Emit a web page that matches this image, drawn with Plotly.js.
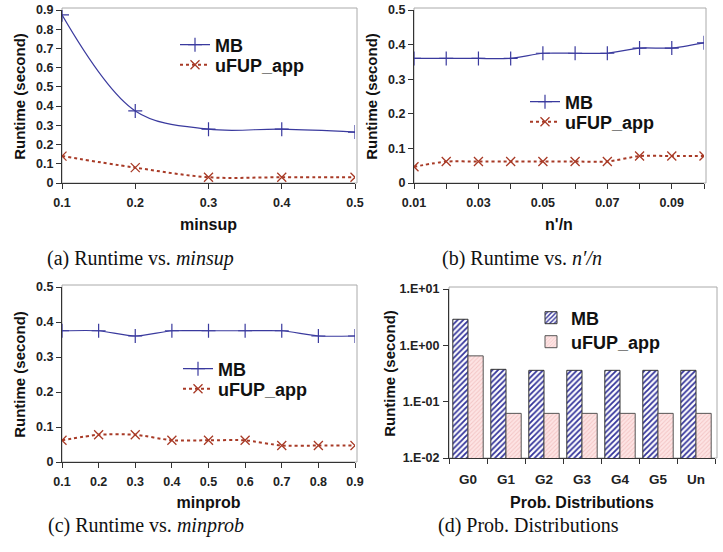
<!DOCTYPE html>
<html><head><meta charset="utf-8">
<script src="https://cdn.plot.ly/plotly-3.0.1.min.js"></script>
<style>html,body{margin:0;padding:0;background:#fff}#c{width:723px;height:552px}</style>
</head><body><div id="c"></div>
<script>
// Data
const minsup = [0.1, 0.2, 0.3, 0.4, 0.5];
const mbMinsup = [0.875, 0.375, 0.28, 0.28, 0.265];
const ufMinsup = [0.14, 0.08, 0.03, 0.03, 0.03];

const nRatio = [0.01, 0.02, 0.03, 0.04, 0.05, 0.06, 0.07, 0.08, 0.09, 0.10];
const mbRatio = [0.36, 0.36, 0.36, 0.36, 0.375, 0.375, 0.375, 0.39, 0.39, 0.405];
const ufRatio = [0.047, 0.062, 0.062, 0.062, 0.062, 0.062, 0.062, 0.078, 0.078, 0.078];

const minprob = [0.1, 0.2, 0.3, 0.4, 0.5, 0.6, 0.7, 0.8, 0.9];
const mbMinprob = [0.375, 0.375, 0.36, 0.375, 0.375, 0.375, 0.375, 0.36, 0.36];
const ufMinprob = [0.062, 0.078, 0.078, 0.062, 0.062, 0.062, 0.047, 0.047, 0.047];

const dists = ['G0', 'G1', 'G2', 'G3', 'G4', 'G5', 'Un'];
const mbDist = [2.9, 0.375, 0.36, 0.36, 0.36, 0.36, 0.36];
const ufDist = [0.65, 0.062, 0.062, 0.062, 0.062, 0.062, 0.062];

const seriesNames = ['MB', 'uFUP_app'];

const BLUE = '#3a3a9e', RED = '#a83a26';
const F = 'Liberation Sans, Arial, sans-serif';
const SERIF = 'Liberation Serif, Times New Roman, serif';

function mbTrace(x, y, xa, ya, leg, sm) {
  return {x, y, xaxis: xa, yaxis: ya, legend: leg, name: seriesNames[0], type: 'scatter', mode: 'lines+markers',
    line: {color: BLUE, width: 1.2, shape: 'spline', smoothing: sm},
    marker: {symbol: 'cross-thin', size: 10, color: BLUE, line: {color: BLUE, width: 1.2}}};
}
function ufTrace(x, y, xa, ya, leg, sm) {
  return {x, y, xaxis: xa, yaxis: ya, legend: leg, name: seriesNames[1], type: 'scatter', mode: 'lines+markers',
    line: {color: RED, width: 2, dash: 'dot', shape: 'spline', smoothing: sm},
    marker: {symbol: 'x-thin', size: 9, color: RED, line: {color: RED, width: 1.3}}};
}

const traces = [
  mbTrace(minsup, mbMinsup, 'x', 'y', 'legend', 1),
  ufTrace(minsup, ufMinsup, 'x', 'y', 'legend2', 1),
  mbTrace(nRatio, mbRatio, 'x2', 'y2', 'legend3', 0.6),
  ufTrace(nRatio, ufRatio, 'x2', 'y2', 'legend4', 0.6),
  mbTrace(minprob, mbMinprob, 'x3', 'y3', 'legend5', 0.6),
  ufTrace(minprob, ufMinprob, 'x3', 'y3', 'legend6', 0.6),
  {x: dists, y: mbDist, xaxis: 'x4', yaxis: 'y4', legend: 'legend7', name: seriesNames[0], type: 'bar',
    marker: {color: '#ffffff', line: {color: '#333333', width: 1},
      pattern: {shape: '/', fgcolor: '#33339a', bgcolor: '#ffffff', size: 4, solidity: 0.45, fillmode: 'replace'}}},
  {x: dists, y: ufDist, xaxis: 'x4', yaxis: 'y4', legend: 'legend8', name: seriesNames[1], type: 'bar',
    marker: {color: '#fde2e2', line: {color: '#555555', width: 1},
      pattern: {shape: '/', fgcolor: '#f3c4c4', bgcolor: '#fde4e4', size: 3, solidity: 0.3, fillmode: 'replace'}}}
];

const tickF = {family: F, size: 12.5, color: '#222', weight: 'bold'};
const titleFx = {family: F, size: 16, color: '#111', weight: 'bold'};
const titleFy = {family: F, size: 15, color: '#111', weight: 'bold'};
function xax(domain, range, anchor, extra) {
  return Object.assign({domain, range, anchor, showgrid: false, zeroline: false, showline: true, linecolor: '#333', linewidth: 1,
    ticks: 'outside', ticklen: 5, tickcolor: '#333', tickfont: tickF, ticklabelstandoff: 3, fixedrange: true}, extra);
}
function yax(domain, range, anchor, extra) {
  return Object.assign({domain, range, anchor, showgrid: false, zeroline: false, showline: true, linecolor: '#333', linewidth: 1,
    ticks: 'outside', ticklen: 5, tickcolor: '#333', tickfont: tickF, fixedrange: true}, extra);
}
const legF = {family: F, size: 18, color: '#111', weight: 'bold'};
// x: left of text minus 40px; y: centre of the item
function leg(textX, cy) {
  return {x: (textX - 40) / 723, y: 1 - cy / 552, xanchor: 'left', yanchor: 'middle', bgcolor: 'rgba(0,0,0,0)', font: legF, itemwidth: 30};
}

const dA = {x: [62/723, 355/723], y: [1-183/552, 1-10/552]};
const dB = {x: [414/723, 704/723], y: [1-183/552, 1-10/552]};
const dC = {x: [62/723, 355/723], y: [1-462/552, 1-287/552]};
const dD = {x: [449/723, 715/723], y: [1-458/552, 1-289/552]};

function frame(d) {
  return {type: 'rect', xref: 'paper', yref: 'paper', x0: d.x[0], x1: d.x[1] + 2/723, y0: d.y[0], y1: d.y[1] + 2/552,
    line: {color: '#aaaaaa', width: 1}, layer: 'below'};
}
function cap(text, x, y) {
  return {text, x, y, xref: 'paper', yref: 'paper', xanchor: 'center', yanchor: 'middle', showarrow: false,
    font: {family: SERIF, size: 20, color: '#111'}};
}

const layout = {
  width: 723, height: 552, margin: {l: 0, r: 0, t: 0, b: 0},
  paper_bgcolor: '#fff', plot_bgcolor: 'rgba(0,0,0,0)', showlegend: true,
  barmode: 'group', bargap: 0.2, bargroupgap: 0,
  xaxis: xax(dA.x, [0.1, 0.5], 'y', {tickvals: minsup, tickformat: '.1f', title: {text: 'minsup', font: titleFx, standoff: 9}}),
  yaxis: yax(dA.y, [0, 0.9], 'x', {dtick: 0.1, tickformat: '.1~f', title: {text: 'Runtime (second)', font: titleFy, standoff: 6}}),
  xaxis2: xax(dB.x, [0.01, 0.10], 'y2', {tick0: 0.01, dtick: 0.02, tickformat: '.2f', minor: {dtick: 0.01, tick0: 0.01, ticks: 'outside', ticklen: 5, tickcolor: '#333'}, title: {text: "n'/n", font: titleFx, standoff: 9}}),
  yaxis2: yax(dB.y, [0, 0.5], 'x2', {dtick: 0.1, tickformat: '.1~f', title: {text: 'Runtime (second)', font: titleFy, standoff: 6}}),
  xaxis3: xax(dC.x, [0.1, 0.9], 'y3', {tickvals: minprob, tickformat: '.1f', title: {text: 'minprob', font: titleFx, standoff: 8}}),
  yaxis3: yax(dC.y, [0, 0.5], 'x3', {dtick: 0.1, tickformat: '.1~f', title: {text: 'Runtime (second)', font: titleFy, standoff: 6}}),
  xaxis4: xax(dD.x, undefined, 'y4', {type: 'category', tickson: 'boundaries', ticklen: 5, ticklabelstandoff: 9, tickfont: Object.assign({}, tickF, {size: 13.5}), title: {text: 'Prob. Distributions', font: titleFx, standoff: 10}}),
  yaxis4: yax(dD.y, [-2, 1], 'x4', {type: 'log', tickvals: [0.01, 0.1, 1, 10], ticktext: ['1.E-02', '1.E-01', '1.E+00', '1.E+01'], ticklabelstandoff: 1, title: {text: 'Runtime (second)', font: titleFy, standoff: 0}}),
  legend: leg(215, 45),
  legend2: leg(215, 65),
  legend3: leg(565, 102),
  legend4: leg(565, 122),
  legend5: leg(218, 369),
  legend6: leg(218, 389),
  legend7: leg(571, 318),
  legend8: leg(571, 342),
  shapes: [frame(dA), frame(dB), frame(dC), frame(dD)],
  annotations: [
    cap('(a) Runtime vs. <i>minsup</i>', 140/723, 1-258/552),
    cap("(b) Runtime vs. <i>n′/n</i>", 522/723, 1-258/552),
    cap('(c) Runtime vs. <i>minprob</i>', 146/723, 1-525/552),
    cap('(d) Prob. Distributions', 528/723, 1-525/552)
  ]
};
delete layout.xaxis4.range;

Plotly.newPlot('c', traces, layout, {displayModeBar: false, staticPlot: true});
</script></body></html>
